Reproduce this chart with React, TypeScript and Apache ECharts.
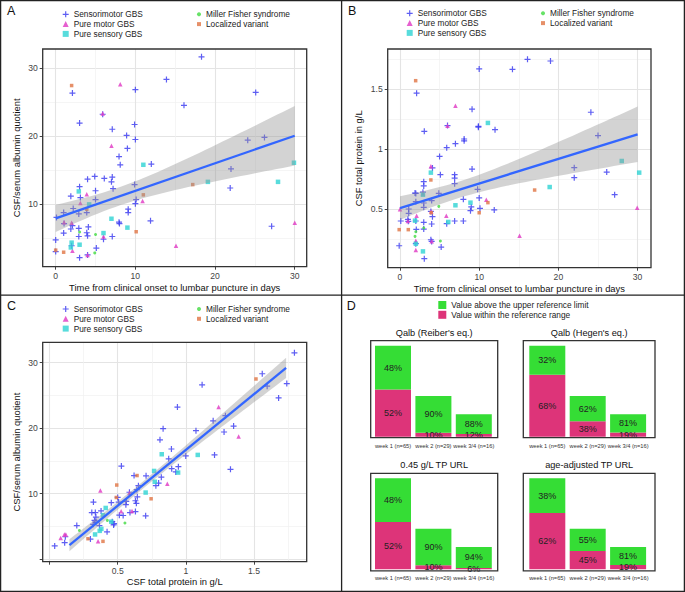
import React, { useEffect, useRef } from 'react';
import * as echarts from 'echarts';

const FONT = '"Liberation Sans", Arial, Helvetica, sans-serif';

// ---------- legend / group info ----------
const groupNames = ['Sensorimotor GBS', 'Pure motor GBS', 'Pure sensory GBS', 'Miller Fisher syndrome', 'Localized variant'];
const groupColors = ['#3b3bf0', '#e03cc4', '#33d4d4', '#46dc46', '#e07848'];

// ---------- Panel A: days vs CSF/serum albumin quotient ----------
const aSM = [[18.3,31.6],[2.1,26.3],[13.9,28.3],[10.0,26.8],[16.1,24.5],[25.1,26.4],[3.0,21.9],[7.1,21.0],[9.9,21.7],[8.9,20.1],[10.0,19.5],[9.0,18.2],[7.95,17.0],[8.1,15.8],[12.0,15.9],[24.1,19.4],[26.2,19.8],[22.0,15.2],[21.9,12.4],[27.1,6.8],[5.9,23.2],[4.9,14.1],[4.0,13.7],[6.1,13.8],[7.1,14.0],[7.0,13.3],[3.0,12.6],[7.2,12.3],[5.0,12.0],[1.9,11.2],[3.1,11.0],[9.9,12.9],[10.1,10.7],[10.0,10.1],[5.0,10.7],[2.2,9.4],[9.1,9.3],[9.1,8.8],[1.0,8.8],[2.9,8.6],[3.9,8.8],[0.1,8.1],[1.05,7.2],[2.1,6.9],[4.1,6.7],[2.9,6.5],[1.9,6.4],[7.95,7.4],[8.0,7.2],[11.9,7.6],[0,4.8],[1.0,5.8],[2.9,5.3],[3.9,5.85],[4.0,5.4],[6.0,4.9],[7.1,5.3],[2.0,3.95],[5.1,3.6],[0.0,3.1],[4.0,2.6],[3.0,2.2]];
const aPM = [[8.1,27.6],[5.9,23.3],[7.0,18.6],[3.9,11.5],[3.1,10.2],[10.9,10.5],[1.05,7.4],[2.0,7.3],[6.0,5.3],[2.1,3.2],[4.0,2.6],[15.1,3.95],[30.0,7.3]];
const aPS = [[11.0,15.8],[2.9,11.9],[4.2,10.0],[7.0,7.9],[9.0,6.6],[6.0,5.8],[2.0,4.4],[3.0,4.1],[1.9,3.7],[19.1,13.3],[27.9,13.3],[29.9,16.1]];
const aMF = [[3.0,5.95],[5.0,5.6],[4.9,2.9]];
const aLV = [[2.0,27.4],[11.0,11.4],[3.9,9.3],[10.1,6.0],[0,3.3],[1.0,3.0],[17.2,12.9]];

// ---------- Panel B: days vs CSF total protein ----------
const bSM = [[16.1,1.747],[19.0,1.733],[14.2,1.664],[10.0,1.667],[2.1,1.465],[9.1,1.332],[24.1,1.306],[25.0,1.112],[6.0,1.195],[9.9,1.189],[9.9,1.182],[12.0,1.161],[3.07,1.147],[8.1,1.083],[8.1,1.068],[7.0,1.044],[5.9,1.011],[5.0,0.938],[4.1,0.842],[9.1,0.833],[5.1,0.786],[6.9,0.786],[6.9,0.758],[3.0,0.728],[6.9,0.711],[3.0,0.692],[1.9,0.633],[2.0,0.63],[4.9,0.631],[9.8,0.664],[10.0,0.592],[8.0,0.581],[1.1,0.5],[1.1,0.464],[2.0,0.561],[3.0,0.514],[3.9,0.48],[4.1,0.436],[9.0,0.517],[8.9,0.486],[10.1,0.506],[11.9,0.492],[1.0,0.414],[0.1,0.4],[1.05,0.397],[2.0,0.4],[3.0,0.389],[4.0,0.375],[5.9,0.378],[6.9,0.4],[8.0,0.4],[3.0,0.333],[2.06,0.33],[2.0,0.211],[3.9,0.244],[4.0,0.23],[5.2,0.183],[-0.1,0.194],[3.07,0.086],[22.0,0.844],[22.0,0.761],[26.1,0.808],[27.1,0.619],[4.0,0.57],[3.0,0.55],[2.9,0.64]];
const bPM = [[0,0.497],[1.0,0.4],[2.1,0.444],[2.9,0.63],[3.9,0.856],[4.0,0.231],[2.0,0.236],[2.0,0.158],[5.85,0.444],[6.0,1.194],[7.0,1.361],[10.9,0.578],[15.1,0.278],[29.95,0.511],[3.95,0.48]];
const bPS = [[11.1,1.217],[3.9,0.803],[2.9,0.619],[7.0,0.531],[8.9,0.553],[1.9,0.403],[6.1,0.392],[2.0,0.21],[2.9,0.147],[28.0,0.9],[30.2,0.803],[18.9,0.683]];
const bMF = [[4.9,0.522],[3.0,0.342],[1.9,0.272],[2.0,0.31],[5.1,0.233]];
const bLV = [[1.98,1.569],[3.9,0.742],[3.95,0.469],[11.1,0.553],[10.0,0.469],[-0.1,0.328],[1.05,0.328],[17.0,0.658]];

// ---------- Panel C: CSF total protein vs CSF/serum albumin quotient ----------
const cSM = [[1.796,31.5],[1.56,28.3],[1.119,26.6],[1.74,26.8],[1.68,24.6],[0.938,23.2],[1.29,21.9],[1.2,21.1],[1.35,20.3],[0.833,19.9],[1.074,19.6],[1.28,19.4],[0.81,18.2],[0.894,16.8],[0.999,15.75],[1.21,15.9],[0.874,15.3],[0.945,14.1],[0.527,14.2],[1.327,13.7],[0.896,13.8],[0.926,13.3],[0.708,12.7],[0.62,12.75],[0.82,12.5],[0.80,11.6],[0.78,11.2],[0.652,11.2],[0.64,10.6],[0.644,9.5],[0.637,8.5],[0.63,8.9],[0.586,10.2],[0.63,7.25],[0.59,7.1],[0.705,6.6],[0.50,9.4],[0.507,8.7],[0.54,6.65],[0.512,6.7],[0.563,8.8],[0.56,8.3],[0.453,8.6],[0.473,5.4],[0.47,5.2],[0.46,5.7],[0.378,7.35],[0.336,7.1],[0.322,8.7],[0.31,7.1],[0.33,5.9],[0.34,5.6],[0.32,5.3],[0.34,6.4],[0.366,5.1],[0.422,4.15],[0.3,3.05],[0.2,5.1],[0.116,3.4],[0.111,2.5],[0.038,2.0],[1.596,26.4]];
const cPM = [[1.24,23.2],[1.387,18.7],[0.864,11.5],[0.586,10.1],[0.605,7.35],[0.525,7.3],[0.356,2.7],[0.109,3.75],[0.12,3.75],[0.082,3.2],[0.373,10.45]];
const cPS = [[0.823,16.0],[1.087,15.9],[0.767,13.45],[0.943,13.2],[0.772,11.8],[0.705,10.15],[0.412,7.8],[0.392,6.7],[0.453,5.7],[0.38,4.6],[0.368,4.3],[0.334,3.75]];
const cMF = [[0.553,5.5],[0.424,5.9],[0.219,4.35]];
const cLV = [[1.514,27.5],[0.642,12.75],[0.745,9.2],[0.493,11.3],[0.49,9.4],[0.392,2.7],[0.282,3.1]];

// smoother end points: [[x0, y0], [x1, y1]]
const fitA = [[0, 7.95], [30, 20.05]];
const fitB = [[0, 0.508], [30, 1.122]];
const fitC = [[0.146, 2.11], [1.735, 29.19]];

// tick values
const daysTicks = [0, 10, 20, 30];
const daysMinor = [5, 15, 25];
const qalbTicksA = [10, 20, 30];
const qalbMinor = [5, 15, 25];
const tpTicksB = [0.5, 1, 1.5];
const tpMinor = [0.25, 0.75, 1.25, 1.75];
const tpTicksC = [0, 0.5, 1, 1.5];
const tpLabelsC = [0.5, 1, 1.5];
const qalbTicksC = [0, 10, 20, 30];

// ---------- Panel D ----------
const weekLabels = ['week 1 (n=65)', 'week 2 (n=29)', 'week 3/4 (n=16)'];
const weekN = [65, 29, 16];
const dTitles = ["Qalb (Reiber's eq.)", "Qalb (Hegen's eq.)", '0.45 g/L TP URL', 'age-adjusted TP URL'];
const dAbove = [[48, 90, 88], [32, 62, 81], [48, 90, 94], [38, 55, 81]];
const dWithin = [[52, 10, 12], [68, 38, 19], [52, 10, 6], [62, 45, 19]];
const aboveName = 'Value above the upper reference limit';
const withinName = 'Value within the reference range';
const aboveColor = '#35dd35';
const withinColor = '#dd3479';

const CROSS = 'path://M4,0H6V4H10V6H6V10H4V6H0V4H4Z';
const groupSymbols = [CROSS, 'triangle', 'rect', 'circle', 'rect'];
const groupSizes = [6, 4.5, 4.5, 3, 3.5];

function fmt(v: number) {
  return String(+v.toFixed(2));
}

function bandFor(pts: number[][], fit: number[][]) {
  const n = pts.length;
  const b = (fit[1][1] - fit[0][1]) / (fit[1][0] - fit[0][0]);
  const a = fit[0][1] - b * fit[0][0];
  let sx = 0;
  pts.forEach(([x]) => { sx += x; });
  const mx = sx / n;
  let sxx = 0, sse = 0;
  pts.forEach(([x, y]) => { sxx += (x - mx) ** 2; sse += (y - a - b * x) ** 2; });
  const s = Math.sqrt(sse / (n - 2));
  const t = 1.984;
  const up: number[][] = [], lo: number[][] = [];
  const r0 = fit[0][0], r1 = fit[1][0];
  for (let i = 0; i <= 40; i++) {
    const x = r0 + ((r1 - r0) * i) / 40;
    const yh = a + b * x;
    const se = s * Math.sqrt(1 / n + (x - mx) ** 2 / sxx);
    up.push([x, yh + t * se]);
    lo.push([x, yh - t * se]);
  }
  return up.concat(lo.reverse());
}

function buildOption() {
  const grids: any[] = [];
  const xAxes: any[] = [];
  const yAxes: any[] = [];
  const series: any[] = [];
  const legends: any[] = [];
  const graphics: any[] = [];

  const panels = [
    {
      grid: { left: 42.7, top: 49, width: 264, height: 217.7 },
      x: { min: -1.63, max: 31.5, step: 10, mstep: 5, ticks: daysTicks, labels: daysTicks, minor: daysMinor, name: 'Time from clinical onset to lumbar puncture in days', gap: 16 },
      y: { min: 0.88, max: 32.75, step: 10, mstep: 5, ticks: qalbTicksA, labels: qalbTicksA, minor: qalbMinor, name: 'CSF/serum albumin quotient', gap: 22 },
      groups: [aSM, aPM, aPS, aMF, aLV], fit: fitA,
      legendLeft: [62.7, 197], legendTop: 9.4,
    },
    {
      grid: { left: 387.7, top: 49, width: 263.3, height: 218.7 },
      x: { min: -1.55, max: 31.69, step: 10, mstep: 5, ticks: daysTicks, labels: daysTicks, minor: daysMinor, name: 'Time from clinical onset to lumbar puncture in days', gap: 16 },
      y: { min: 0.011, max: 1.833, step: 0.5, mstep: 0.25, ticks: tpTicksB, labels: tpTicksB, minor: tpMinor, name: 'CSF total protein in g/L', gap: 25 },
      groups: [bSM, bPM, bPS, bMF, bLV], fit: fitB,
      legendLeft: [406.7, 541], legendTop: 8.4,
    },
    {
      grid: { left: 42.7, top: 342.3, width: 264, height: 219.4 },
      x: { min: -0.05, max: 1.886, step: 0.5, mstep: 0.25, ticks: tpTicksC, labels: tpLabelsC, minor: tpMinor, name: 'CSF total protein in g/L', gap: 15 },
      y: { min: -0.41, max: 33.1, step: 10, mstep: 5, ticks: qalbTicksC, labels: qalbTicksA, minor: qalbMinor, name: 'CSF/serum albumin quotient', gap: 22 },
      groups: [cSM, cPM, cPS, cMF, cLV], fit: fitC,
      legendLeft: [62.7, 197], legendTop: 304.1,
    },
  ];

  panels.forEach((p, k) => {
    grids.push({ ...p.grid, show: false, containLabel: false, outerBoundsMode: 'none' });
    const mkMain = (dim: 'x' | 'y', c: any) => ({
      type: 'value', gridIndex: k, min: c.min, max: c.max,
      minInterval: c.step, maxInterval: c.step,
      position: dim === 'x' ? 'bottom' : 'left',
      name: c.name, nameLocation: 'middle', nameGap: c.gap,
      nameTextStyle: { fontSize: 9.4, color: '#111', fontFamily: FONT },
      axisLine: { show: false, onZero: false },
      axisTick: { show: true, length: 3, customValues: c.ticks, lineStyle: { color: '#444', width: 1 } },
      axisLabel: {
        show: true, customValues: c.labels, fontSize: 8.6, color: '#444', fontFamily: FONT,
        margin: 5,
        formatter: (v: number) => (c.labels.some((l: number) => Math.abs(l - v) < 1e-9) ? fmt(v) : ''),
      },
      splitLine: { show: true, lineStyle: { color: '#e4e4e4', width: 1.1 } },
      minorTick: { show: false }, minorSplitLine: { show: false },
    });
    const mkMinor = (dim: 'x' | 'y', c: any) => ({
      type: 'value', gridIndex: k, min: c.min, max: c.max,
      minInterval: c.mstep, maxInterval: c.mstep,
      position: dim === 'x' ? 'top' : 'right',
      axisLine: { show: false, onZero: false },
      axisTick: { show: false, customValues: c.minor },
      axisLabel: { show: false },
      splitLine: { show: true, lineStyle: { color: '#f1f1f1', width: 0.7 } },
    });
    xAxes.push(mkMain('x', p.x), mkMinor('x', p.x));
    yAxes.push(mkMain('y', p.y), mkMinor('y', p.y));
    const xi = 2 * k, yi = 2 * k;

    p.groups.forEach((d, g) => {
      series.push({
        type: 'scatter', name: groupNames[g], xAxisIndex: xi, yAxisIndex: yi,
        data: d, symbol: groupSymbols[g], symbolSize: groupSizes[g],
        itemStyle: { color: groupColors[g], opacity: 0.82 }, z: 2, silent: true,
      });
    });

    // linear smoother with 95% confidence band
    const all = ([] as number[][]).concat(...p.groups);
    const band = bandFor(all, p.fit);
    series.push({
      type: 'custom', xAxisIndex: xi, yAxisIndex: yi, z: 3, silent: true,
      data: [p.fit[0]],
      renderItem: (_params: any, api: any) => ({
        type: 'polygon',
        shape: { points: band.map((pt) => api.coord(pt)) },
        style: { fill: 'rgba(150,150,150,0.42)' },
      }),
    });
    series.push({
      type: 'line', xAxisIndex: xi, yAxisIndex: yi, z: 4, silent: true,
      data: p.fit,
      symbol: 'none', lineStyle: { color: '#3366ff', width: 2.3 },
    });

    // legends (two columns)
    const legendBase = {
      orient: 'vertical', top: p.legendTop, padding: 0, itemGap: 0,
      selectedMode: false,
      textStyle: { fontSize: 8.3, lineHeight: 9.8, color: '#222', fontFamily: FONT },
    };
    legends.push({
      ...legendBase, left: p.legendLeft[0], itemWidth: 6, itemHeight: 6,
      data: [0, 1, 2].map((g) => ({ name: groupNames[g], icon: groupSymbols[g] })),
    });
    legends.push({
      ...legendBase, left: p.legendLeft[1], itemWidth: 4, itemHeight: 4,
      data: [3, 4].map((g) => ({ name: groupNames[g], icon: groupSymbols[g] })),
    });

    // plot border
    graphics.push({
      type: 'rect', z: 20, silent: true,
      shape: { x: p.grid.left, y: p.grid.top, width: p.grid.width, height: p.grid.height },
      style: { fill: 'none', stroke: '#333', lineWidth: 1.3 },
    });
  });

  // ----- Panel D small bar charts -----
  const dBoxes = [
    { bx: 370.7, by: 340.7, bw: 127, bh: 97, gl: 372.8, gt: 345.7 },
    { bx: 523.3, by: 340.7, bw: 131.7, bh: 97, gl: 527.1, gt: 345.7 },
    { bx: 370.7, by: 473.3, bw: 127, bh: 97.5, gl: 372.8, gt: 478.3 },
    { bx: 523.3, by: 473.3, bw: 131.7, bh: 97.5, gl: 527.1, gt: 478.3 },
  ];
  dBoxes.forEach((b, k) => {
    const gi = grids.length;
    const ai = xAxes.length;
    grids.push({ left: b.gl, top: b.gt, width: 121.2, height: 91, show: false, containLabel: false, outerBoundsMode: 'none' });
    xAxes.push({
      type: 'category', gridIndex: gi, data: weekLabels,
      axisLine: { show: false }, axisTick: { show: false },
      axisLabel: { interval: 0, fontSize: 5.7, color: '#333', fontFamily: FONT, margin: 6 },
      splitLine: { show: false },
    });
    yAxes.push({ type: 'value', gridIndex: gi, min: 0, max: 65, show: false, splitLine: { show: false } });
    const lbl = (arr: number[]) => ({
      show: true, position: 'inside', fontSize: 9, color: '#222', fontFamily: FONT,
      textBorderWidth: 0, formatter: (pp: any) => arr[pp.dataIndex] + '%',
    });
    series.push({
      type: 'bar', name: withinName, xAxisIndex: ai, yAxisIndex: ai, stack: 'd' + k,
      barWidth: 36, silent: true,
      data: dWithin[k].map((pct, i) => (weekN[i] * pct) / 100),
      itemStyle: { color: withinColor, borderWidth: 0 },
      label: lbl(dWithin[k]),
    });
    series.push({
      type: 'bar', name: aboveName, xAxisIndex: ai, yAxisIndex: ai, stack: 'd' + k,
      barWidth: 36, silent: true,
      data: dAbove[k].map((pct, i) => (weekN[i] * pct) / 100),
      itemStyle: { color: aboveColor, borderWidth: 0 },
      label: lbl(dAbove[k]),
    });
    graphics.push({
      type: 'rect', z: 20, silent: true,
      shape: { x: b.bx, y: b.by, width: b.bw, height: b.bh },
      style: { fill: 'none', stroke: '#333', lineWidth: 1.3 },
    });
    graphics.push({
      type: 'text', z: 20, silent: true,
      x: b.bx + b.bw / 2, y: b.by - 8,
      style: { text: dTitles[k], fontSize: 9.2, fontFamily: FONT, fill: '#111', align: 'center', verticalAlign: 'middle' },
    });
  });
  legends.push({
    orient: 'vertical', left: 438.3, top: 300.1, padding: 0, itemGap: 0,
    itemWidth: 8, itemHeight: 8, selectedMode: false,
    textStyle: { fontSize: 8.3, lineHeight: 9.8, color: '#222', fontFamily: FONT },
    data: [{ name: aboveName, icon: 'rect' }, { name: withinName, icon: 'rect' }],
  });

  // panel frames and letters
  graphics.push(
    { type: 'rect', z: 30, silent: true, shape: { x: 0.6, y: 0.6, width: 683.8, height: 590.8 }, style: { fill: 'none', stroke: '#222', lineWidth: 1.3 } },
    { type: 'line', z: 30, silent: true, shape: { x1: 341.6, y1: 0, x2: 341.6, y2: 592 }, style: { stroke: '#222', lineWidth: 1.3 } },
    { type: 'line', z: 30, silent: true, shape: { x1: 0, y1: 295.2, x2: 685, y2: 295.2 }, style: { stroke: '#222', lineWidth: 1.3 } },
  );
  const letters = [['A', 7, 11.3], ['B', 348, 10.8], ['C', 7, 306], ['D', 346.7, 305.6]];
  letters.forEach(([t, x, y]) => {
    graphics.push({
      type: 'text', z: 30, silent: true, x, y,
      style: { text: t, fontSize: 12.5, fontFamily: FONT, fill: '#111', align: 'left', verticalAlign: 'middle' },
    });
  });

  return {
    animation: false,
    backgroundColor: '#ffffff',
    grid: grids,
    xAxis: xAxes,
    yAxis: yAxes,
    legend: legends,
    series,
    graphic: { elements: graphics },
  };
}

export default function App() {
  const ref = useRef<HTMLDivElement>(null);
  useEffect(() => {
    if (!ref.current) return;
    const chart = echarts.init(ref.current, null, { renderer: 'svg' });
    chart.setOption(buildOption() as any);
    return () => chart.dispose();
  }, []);
  return (
    <div
      ref={ref}
      style={{ position: 'absolute', left: 0, top: 0, width: 685, height: 592, background: '#fff' }}
    />
  );
}
